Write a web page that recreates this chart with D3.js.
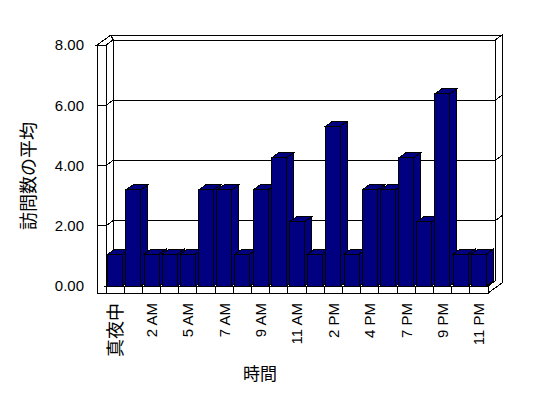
<!DOCTYPE html>
<html lang="ja">
<head>
<meta charset="utf-8">
<title>訪問数の平均</title>
<script src="https://d3js.org/d3.v7.min.js"></script>
<style>
  body { margin: 0; background: #fff; }
  text { font-family: "Liberation Sans", "Noto Sans CJK JP", sans-serif; fill: #000; }
</style>
</head>
<body>
<div id="chart"></div>
<script>

// data
var hours = ["真夜中", "1 AM", "2 AM", "3 AM", "5 AM", "6 AM", "7 AM", "8 AM", "9 AM", "10 AM",
             "11 AM", "正午", "2 PM", "3 PM", "4 PM", "6 PM", "7 PM", "8 PM", "9 PM", "10 PM", "11 PM"];
var avgVisits = [1.06, 3.19, 1.06, 1.06, 1.06, 3.19, 3.19, 1.06, 3.19, 4.25,
                 2.13, 1.06, 5.31, 1.06, 3.19, 3.19, 4.25, 2.13, 6.38, 1.06, 1.06];
var yTicks = [0, 2, 4, 6, 8];

var width = 548, height = 398;
var svg = d3.select("#chart").append("svg")
  .attr("width", width).attr("height", height)
  .attr("shape-rendering", "crispEdges");

// front plane of the plot, depth offset, wall thickness
var x0 = 106, x1 = 488;
var DX = 7, DY = -5, TX = 9, TY = 7;

var y = d3.scaleLinear().domain([0, 8]).range([286, 45]);
var xCell = d3.scaleBand().domain(hours).range([x0, x1]);
var xBar = d3.scaleBand().domain(hours).range([x0, x1]).paddingInner(0.175).paddingOuter(0.1);

var y0 = y(0), y8 = y(8);
var line = d3.line();
function poly(pts) { return line(pts) + "Z"; }

var frame = svg.append("g").attr("fill", "#fff").attr("stroke", "#000");

// back wall
frame.append("path").attr("d", poly([[x0 + DX, y8 + DY], [x1 + DX, y8 + DY], [x1 + DX, y0 + DY], [x0 + DX, y0 + DY]]));
// top strip of back wall
frame.append("path").attr("d", poly([[x0 + DX, y8 + DY], [x1 + DX, y8 + DY], [x1 + 2 * DX, y8 + 2 * DY], [x0 - TX + 2 * DX, y8 + 2 * DY]]));
// right edge strip
frame.append("path").attr("d", poly([[x1 + DX, y8 + DY], [x1 + 2 * DX, y8 + 2 * DY], [x1 + 2 * DX, y0 + 2 * DY + TY],
                                      [x1, y0 + TY], [x1, y0], [x1 + DX, y0 + DY]]));
// left wall: inner face, cap, front face
frame.append("path").attr("d", poly([[x0, y8], [x0 + DX, y8 + DY], [x0 + DX, y0 + DY], [x0, y0]]));
frame.append("path").attr("d", poly([[x0 - TX, y8], [x0, y8], [x0 + DX, y8 + DY], [x0 - TX + 2 * DX, y8 + 2 * DY]]));
frame.append("path").attr("d", poly([[x0 - TX, y8], [x0, y8], [x0, y0 + TY], [x0 - TX, y0 + TY]]));
// floor: top and front strip
frame.append("path").attr("d", poly([[x0, y0], [x1, y0], [x1 + DX, y0 + DY], [x0 + DX, y0 + DY]]));
frame.append("path").attr("d", poly([[x0, y0], [x1, y0], [x1, y0 + TY], [x0, y0 + TY]]));

// gridlines running across the left wall, back wall and right strip
frame.selectAll(".grid")
  .data(yTicks.filter(function(v) { return v > 0 && v < 8; }))
  .enter().append("path")
  .attr("class", "grid")
  .attr("fill", "none")
  .attr("d", function(v) {
    var yy = y(v);
    return line([[x0 - TX, yy], [x0, yy], [x0 + DX, yy + DY], [x1 + DX, yy + DY], [x1 + 2 * DX, yy + 2 * DY]]);
  });

// category dividers on the floor front
frame.selectAll(".cell")
  .data(hours.slice(1))
  .enter().append("line")
  .attr("x1", function(d) { return xCell(d); })
  .attr("x2", function(d) { return xCell(d); })
  .attr("y1", y0).attr("y2", y0 + TY);

// bars
var bw = xBar.bandwidth();
var bars = svg.append("g").attr("fill", "#000080").attr("stroke", "#000")
  .selectAll("g")
  .data(hours.map(function(h, i) { return { hour: h, value: avgVisits[i] }; }))
  .enter().append("g");

bars.append("path").attr("d", function(d) {
  var bx = xBar(d.hour), top = y(d.value);
  return poly([[bx + bw, top], [bx + bw + DX, top + DY], [bx + bw + DX, y0 + DY], [bx + bw, y0]]);
});
bars.append("path").attr("d", function(d) {
  var bx = xBar(d.hour), top = y(d.value);
  return poly([[bx, top], [bx + bw, top], [bx + bw + DX, top + DY], [bx + DX, top + DY]]);
});
bars.append("rect")
  .attr("x", function(d) { return xBar(d.hour); })
  .attr("y", function(d) { return y(d.value); })
  .attr("width", bw)
  .attr("height", function(d) { return y0 - y(d.value); });

// y tick labels
svg.append("g").selectAll("text")
  .data(yTicks)
  .enter().append("text")
  .attr("x", 84)
  .attr("y", function(v) { return y(v); })
  .attr("dy", "0.36em")
  .attr("text-anchor", "end")
  .attr("font-size", 15)
  .text(function(v) { return v.toFixed(2); });

// x tick labels, every other hour
svg.append("g").selectAll("text")
  .data(hours.filter(function(h, i) { return i % 2 === 0; }))
  .enter().append("text")
  .attr("transform", function(h) {
    return "translate(" + (xCell(h) + xCell.bandwidth() / 2) + ",303) rotate(-90)";
  })
  .attr("dy", "0.36em")
  .attr("text-anchor", "end")
  .attr("font-size", function(h) { return /[^\x00-\x7f]/.test(h) ? 18 : 15; })
  .text(function(h) { return h; });

// axis titles
svg.append("text")
  .attr("transform", "translate(29,176) rotate(-90)")
  .attr("dy", "0.36em")
  .attr("text-anchor", "middle")
  .attr("font-size", 18)
  .text("訪問数の平均");

svg.append("text")
  .attr("x", 260).attr("y", 374)
  .attr("dy", "0.36em")
  .attr("text-anchor", "middle")
  .attr("font-size", 17)
  .text("時間");

</script>
</body>
</html>
